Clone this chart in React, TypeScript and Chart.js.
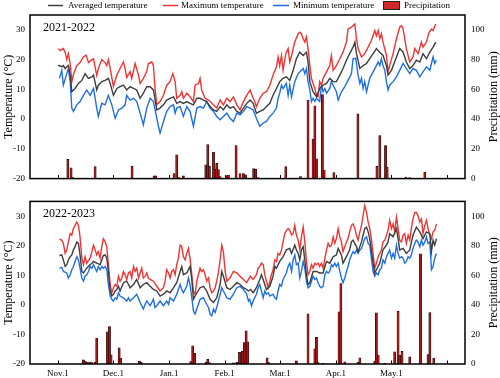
import React, { useEffect, useRef } from "react";
import { Chart, registerables } from "chart.js";

Chart.register(...registerables);

type Pt = [number, number];

// ---- axes / labels ----
const monthTicks = [0, 31, 62, 93, 124, 155, 186, 217];
const monthLabels = ["Nov.1", "Dec.1", "Jan.1", "Feb.1", "Mar.1", "Apr.1", "May.1", ""];
const tempTicks = [-20, -10, 0, 10, 20, 30];
const precipTicks = [0, 20, 40, 60, 80, 100];
const seriesNames = ["Averaged temperature", "Maximum temperature", "Minimum temperature", "Precipitation"];
const panelLabels = ["2021-2022", "2022-2023"];

// ---- 2021-2022 (day since Nov.1, value) ----
const max2122: Pt[] = [[0.2,23.7],[1.3,23],[3.1,23.7],[4.1,22.5],[5,20],[5.9,22],[6.9,18.7],[7.8,12.5],[8.7,15],[10.6,18],[12.4,19],[14.3,21],[15.8,21.5],[17.1,19],[19,20],[19.9,20.3],[21.7,14.7],[22.6,17],[24.5,20],[26.4,19],[27.3,18],[28.2,20],[29.2,17],[31,11],[32.9,14.8],[34.7,17],[36.6,19.2],[37.5,17],[38.4,14],[40.3,16],[41.2,13.7],[43.1,18.7],[45,14.8],[45.9,12],[47.7,13.7],[49.6,16],[50.5,18.7],[52.4,19.2],[53.3,18],[54.2,10.3],[55.2,4.8],[57,5.9],[58.9,8],[60.7,11.4],[62.6,12.6],[64.1,15.3],[65.4,12.6],[66.3,7],[68.2,8],[69.1,9.2],[70,7],[71.9,8.7],[73.7,7.5],[75.6,5.9],[76.5,11.4],[78.4,12],[79.3,13.7],[80.2,9.8],[82.1,7],[84,6.4],[86.8,4.8],[88.6,3.7],[90.5,6.4],[92.3,4.8],[94.2,7],[96,5.9],[97.9,7.5],[99.8,4.8],[101.6,3.1],[103.5,5.9],[105.3,8],[107.2,9.8],[108.9,7],[109.8,5.9],[110.7,4.2],[112.6,7],[114.5,8.7],[116.3,9.2],[118.2,11.4],[120,14.8],[121.9,17.6],[122.8,20.9],[123.7,18],[124.7,21.4],[125.6,16.4],[127.1,22],[128.4,23.7],[129.3,19.2],[130.3,21.4],[132.1,25.9],[134,28.7],[134.9,29.2],[135.8,28.7],[136.8,27],[137.7,25.9],[138.6,27.6],[139.5,23.7],[140.5,18],[141.4,13.7],[142.3,12],[143.3,10.3],[144.2,8],[145.1,7.5],[146,12.6],[147,11.4],[147.9,13.7],[149.8,15.9],[151.6,18],[152.5,21.4],[153.5,16.4],[155.3,18],[157.2,20.3],[159,22.5],[160.9,25.9],[161.8,30.3],[163.7,30.9],[165.6,32],[166.5,27],[167.4,23.7],[169.3,20.9],[171.1,22],[173,24.2],[174.8,26.4],[176.7,29.8],[177.6,28],[178.6,29.8],[179.5,27],[180.4,28.7],[181.3,25.9],[183.2,21.4],[184.1,15.9],[185,18],[186.9,22],[188.8,27],[190.6,30.9],[191.6,31.4],[192.5,30.3],[194.3,23.7],[196.2,19.2],[198,20.9],[199,23.7],[200.9,22],[202.7,25.9],[203.6,24.2],[205.5,25.9],[207,29.2],[208.3,30.3],[209.2,29.8],[210.7,32]];

const avg2122: Pt[] = [[0.2,18.1],[2.2,17.6],[3.1,18],[4.1,17],[5,17.6],[5.9,18],[6.9,14.8],[7.8,9.2],[9.6,10.3],[11.5,12],[13.4,13],[15.2,15.3],[17.1,13.7],[19,14.2],[19.9,14.8],[21.7,9.8],[22.6,11.4],[24.5,12.6],[26.4,13],[28.2,13.7],[29.2,12],[31,8],[32.9,10.3],[34.7,10.9],[36.6,11.4],[38.4,9.8],[40.3,10.9],[42.2,10.3],[44,9.8],[45.9,7],[47.7,8.7],[49.6,10.9],[51.5,10.9],[53.3,9.8],[55.2,3.1],[57,3.7],[58.9,4.8],[60.7,6.4],[62.6,7],[64.5,7.5],[66.3,5.3],[68.2,5.9],[70,5.3],[71.9,5.9],[73.7,5.3],[75.6,4.8],[77.5,7],[79.3,7],[81.2,6.4],[83,5.9],[84.9,4.2],[86.8,3.1],[88.6,2.6],[90.5,4.2],[92.3,3.1],[94.2,4.8],[96,3.7],[97.9,4.2],[99.8,2.6],[101.6,2],[103.5,3.7],[105.3,5.3],[107.2,6.4],[108.9,5.3],[110.7,2],[112.6,2.6],[114.5,3.1],[116.3,4.2],[118.2,5.3],[120,8],[121.9,10.3],[123.7,12.6],[125.6,13.7],[127.4,14.2],[129.3,13],[131.2,16.4],[133,20.3],[134.9,22.5],[136.8,21.4],[138.6,22.5],[139.5,19.2],[140.5,12.6],[142.3,9.2],[144.2,7.5],[146,10.3],[147.9,11.4],[149.8,12],[151.6,13.7],[153.5,12.6],[155.3,12.6],[157.2,14.8],[159,17],[160.9,19.8],[162.7,22],[164.6,24.2],[165.6,25.9],[166.5,22],[168.4,17],[170.2,18],[172.1,18.7],[173.9,20.3],[175.8,22],[177.6,23.7],[179.5,22.5],[181.3,21.4],[183.2,18],[184.1,14.8],[186,16.4],[188.8,20.9],[190.6,23.7],[192.5,22.5],[194.3,19.2],[196.2,17],[198,18],[199.9,19.8],[201.8,19.2],[203.6,22],[205.5,20.3],[207.4,22.5],[209.2,24.2],[210.7,25.9]];

const min2122: Pt[] = [[0.9,13.7],[2.2,16.4],[3.1,11.4],[5,15.3],[5.9,17],[6.9,12.6],[7.8,3.7],[8.7,2.6],[10.6,4.8],[12.4,5.9],[14.3,8],[16.1,9.8],[18,8],[19.9,10.3],[21.7,3.7],[22.6,0.9],[24.5,5.3],[26.4,4.8],[28.2,8],[30.1,4.8],[32,0.3],[33.8,3.1],[35.7,3.7],[37.5,4.8],[38.4,8],[40.3,6.4],[42.2,7],[44,5.9],[45.9,2],[47.7,-1.9],[49.6,3.7],[51.5,7],[53.3,5.9],[55.2,0.3],[56.1,-2.4],[57,-4.7],[58.9,-0.8],[60.7,2.6],[62.6,4.2],[64.5,4.8],[65.4,2],[66.3,3.7],[68.2,4.2],[70,0.9],[71.9,4.2],[73.7,2.6],[75.6,-2.4],[77.5,3.7],[79.3,4.2],[81.2,3.7],[83,5.9],[84.9,3.7],[86.8,2.6],[88.6,0.9],[90.5,-0.2],[92.3,0.9],[94.2,2],[96,0.3],[97.9,-0.8],[99.8,2],[101.6,1.4],[103.5,2.6],[105.3,4.2],[107.2,3.7],[108.9,3.1],[110.7,0.3],[112.6,-2.4],[114.5,-1.3],[116.3,-0.8],[118.2,0.9],[120,2],[121.9,3.7],[122.8,7],[123.7,8.7],[124.7,11.4],[125.6,10.3],[127.4,12],[128.4,8],[129.3,11.4],[130.3,7.5],[132.1,12.6],[134,15.3],[135.8,16.4],[136.8,17],[137.7,15.3],[138.6,17],[139.5,12.6],[140.5,9.8],[141.4,5.9],[142.3,7],[143.3,5.9],[144.2,7],[146,5.9],[147,11.4],[147.9,9.2],[148.9,10.3],[149.8,8.7],[151.6,10.3],[152.5,12.6],[153.5,11.4],[155.3,9.2],[156.3,6.4],[158.1,9.2],[160,10.9],[161.8,13],[163.7,15.3],[164.6,20.3],[166.1,20.5],[167.4,14.8],[168.4,12],[169.3,13.7],[170.2,10.3],[171.1,12.6],[172.1,9.2],[173.9,13.7],[175.8,15.9],[177.6,18],[178.6,19.2],[179.5,18],[180.4,20.3],[181.3,18],[182.3,16.4],[183.2,12.6],[184.1,9.8],[185,11.4],[186.9,12.6],[188.8,14.2],[190.6,16.4],[192.5,18.7],[194.3,17],[196.2,15.3],[198,17],[199.9,16.4],[201.8,14.2],[203.6,15.9],[205.5,17.6],[207.4,16.4],[208.3,18.7],[209.2,20.9],[210.1,18.7],[211,19.8]];

const prec2122: Pt[] = [[5.6,12.9],[7.4,7.3],[8.3,0.7],[20.8,8],[41.4,8.4],[53.7,1.8],[54.6,1.8],[64.8,3.3],[66.3,16],[67.6,0.7],[70,1.8],[82.5,9.3],[83.6,22.8],[84.5,8.4],[86.8,17.7],[87.7,6.2],[88.6,10.2],[89.5,6],[90.5,1.4],[94.2,2],[95.1,2.2],[99.4,22.2],[101.6,3.3],[103.5,3.3],[104.8,2.6],[109.2,6.7],[110.3,6.2],[111.6,0.7],[127.1,8],[135.3,1.3],[139.5,52.8],[142.3,26.6],[143.3,49],[144.2,13.3],[147.5,56.5],[148.5,5.8],[153.9,4],[167.3,43.5],[177.9,8.2],[179.5,29],[182.7,22.2],[183.6,7.8],[194,1.1],[196.2,0.7],[204.6,4.2]];

// ---- 2022-2023 ----
const max2223: Pt[] = [[0.9,22.2],[2.2,21.9],[3.1,20.8],[4.1,17.4],[5,18.6],[5.9,21.3],[6.9,24.1],[7.8,23.6],[8.7,25.8],[9.6,26.9],[10.6,28],[11.5,26.9],[12.4,23],[13.4,15.8],[14.3,13.6],[15.2,16.3],[16.1,14.1],[18,15.8],[19,18],[19.9,20.2],[20.8,18.6],[21.7,16.9],[22.6,18],[23.6,15.8],[24.5,19.7],[25.4,22.4],[26.4,21.3],[27.3,19.7],[28.2,13.6],[29.2,6.9],[30.1,4.1],[31,5.8],[32,6.9],[32.9,6.3],[33.8,9.7],[34.7,8],[35.7,9.1],[36.6,11.3],[37.5,10.2],[38.4,8.6],[39.4,10.8],[40.3,11.3],[41.2,9.1],[42.2,13],[43.1,11.3],[44,12.4],[45,9.1],[45.9,10.8],[46.8,12.4],[47.7,9.1],[48.7,9.7],[49.6,10.8],[50.5,9.1],[51.5,8.6],[53.3,8],[55.2,6.3],[57,4.7],[58.9,5.8],[59.8,8],[60.7,11.9],[61.7,10.8],[62.6,9.1],[63.5,11.3],[64.5,11.9],[65.4,10.2],[66.3,13.6],[67.2,15.8],[68.2,20.2],[69.1,19.7],[70,16.3],[71,15.2],[71.9,17.4],[72.8,19.1],[73.7,15.8],[74.7,10.2],[75.6,4.7],[76.5,3.6],[77.5,8],[79.3,12.4],[80.2,11.3],[81.2,11.9],[82.1,10.2],[83,8],[84,9.1],[84.9,5.8],[85.8,4.1],[86.8,4.7],[87.7,5.8],[88.6,8],[89.5,10.8],[90.5,15.2],[91.4,20.2],[92.3,18],[93.3,11.3],[94.2,8],[96,9.1],[97.9,11.3],[99.8,10.8],[101.6,9.7],[103.5,8.6],[105.3,7.5],[106.3,8.6],[107.3,9.7],[108.9,8.6],[110.7,10.2],[111.7,12.4],[112.6,13],[113.5,14.1],[114.5,13.6],[115.4,10.2],[116.3,8],[117.3,5.8],[118.2,8],[119.1,10.2],[120,11.9],[121,15.2],[121.9,14.7],[122.8,17.4],[123.7,16.9],[124.7,18.6],[125.6,21.3],[126.5,24.1],[127.4,25.2],[128.4,25.8],[129.3,25.2],[130.3,23.6],[131.2,24.1],[132.1,26.9],[133,23.6],[134,21.9],[134.9,18.6],[135.8,23],[136.8,26.3],[137.7,21.3],[138.6,14.7],[139.5,10.2],[140.5,11.3],[141.4,13.6],[142.3,12.4],[143.3,14.1],[144.2,13.6],[145.1,14.1],[146,13],[147,14.1],[147.9,12.4],[148.9,15.8],[149.8,18.6],[150.7,20.8],[151.6,19.7],[152.6,20.2],[153.5,23],[154.4,20.8],[155.3,22.4],[156.3,25.8],[157.2,23],[158.1,21.3],[159,18],[160,19.7],[160.9,21.3],[161.8,22.4],[162.7,24.7],[163.7,26.9],[164.6,27.4],[165.6,25.8],[166.5,23.6],[167.4,21.9],[168.4,24.7],[169.3,26.9],[170.2,30.2],[171.1,33.6],[172.1,31.3],[173,28],[173.9,25.8],[174.8,22.4],[175.8,16.9],[176.7,12.4],[177.6,14.1],[178.6,16.3],[179.5,17.4],[180.4,18.6],[181.3,21.3],[182.3,21.9],[183.2,23.6],[184.1,25.2],[185,28.6],[186,25.8],[186.9,27.4],[187.8,24.7],[188.8,29.7],[189.7,25.8],[190.6,21.9],[191.6,21.3],[192.5,23.6],[193.4,24.1],[194.3,20.8],[195.3,23.6],[196.2,21.9],[197.1,25.8],[198,29.1],[199,31.3],[199.9,31.3],[200.8,30.2],[201.8,28],[202.7,29.1],[203.6,24.1],[204.6,26.9],[205.5,28.6],[206.4,25.8],[207.4,23.6],[208.3,22.4],[209.2,24.7],[210.1,25.2],[211.1,27.4]];

const avg2223: Pt[] = [[0.9,16.7],[2.2,16.9],[3.1,15.2],[4.1,13],[5,13.6],[5.9,15.2],[6.9,16.3],[7.8,16.9],[8.7,18.6],[9.6,19.7],[10.6,21.3],[11.5,20.8],[12.4,16.9],[13.4,11.3],[14.3,10.8],[16.1,12.4],[18,13.6],[19,14.1],[19.9,14.7],[21.7,14.1],[23.6,13.6],[24.5,15.2],[25.4,16.7],[26.4,16.9],[27.3,15.8],[28.2,11.3],[29.2,4.7],[30.1,3],[31,3.6],[32,4.7],[32.9,5.2],[33.8,6.3],[34.7,4.7],[36.6,7.5],[38.4,8],[39.4,6.9],[40.3,5.8],[42.2,6.9],[44,8.6],[45.9,5.8],[47.7,6.9],[49.6,7.5],[51.5,6.3],[53.3,5.2],[55.2,4.7],[57,3],[58.9,3.6],[60.7,4.7],[62.6,4.1],[64.5,5.8],[66.3,7.5],[68.2,11.3],[69.1,13],[70,10.2],[71.9,10.8],[73.7,13],[74.7,8.6],[75.6,1.9],[77.5,4.1],[79.3,5.8],[81.2,6.3],[83,4.7],[84.9,1.9],[86.8,0.8],[88.6,2.4],[90.5,6.9],[91.4,11.3],[92.3,9.7],[94.2,5.8],[96,5.2],[97.9,6.3],[99.8,7.5],[101.6,6.9],[103.5,5.8],[105.3,5.2],[106.3,4.7],[107.5,5.2],[108.9,4.1],[110.7,5.8],[112.6,8.6],[113.5,10.2],[114.5,8.6],[116.3,5.2],[118.2,6.3],[120,9.7],[121,13],[121.9,12.4],[123.7,14.7],[125.6,16.3],[127.4,18.6],[129.3,19.1],[130.3,17.4],[132.1,20.2],[133,18.6],[134,17.4],[134.9,15.2],[135.8,18.6],[136.8,19.7],[137.7,15.2],[138.6,10.2],[139.5,6.9],[140.5,7.5],[142.3,11.3],[144.2,11.3],[146,10.8],[147.9,10.8],[148.9,13],[149.8,14.7],[151.6,14.1],[153.5,16.3],[155.3,16.9],[156.3,19.1],[158.1,16.9],[159,14.1],[160.9,16.3],[162.7,18.6],[163.7,21.3],[164.6,21.9],[166.5,19.7],[167.4,18],[169.3,21.3],[171.1,25.8],[172.1,26.3],[173,24.7],[173.9,22.4],[175.8,14.1],[176.7,10.8],[177.6,11.9],[179.5,14.1],[181.3,18.6],[183.2,20.2],[184.1,21.3],[185,24.1],[186.9,23],[188.8,25.8],[189.7,22.4],[190.6,18.6],[192.5,19.1],[194.3,17.4],[196.2,18.6],[198,23.6],[199.9,26.3],[201.8,24.7],[203.6,22.4],[205.5,24.7],[207.4,24.1],[208.3,18],[209.2,21.9],[210.1,20.2],[211.1,22.4]];

const min2223: Pt[] = [[0.9,12.4],[2.2,12.7],[3.1,11.3],[5,10.8],[5.9,9.1],[6.9,10.2],[7.8,11.9],[8.7,13],[9.6,14.7],[10.6,16.3],[11.5,15.2],[12.4,12.4],[13.4,9.1],[14.3,8],[15.2,9.7],[16.1,10.2],[17.1,11.3],[18,13],[19,12.4],[19.9,13.6],[20.8,12.4],[21.7,11.3],[22.6,13],[23.6,11.9],[24.5,13],[25.4,12.4],[26.4,13],[27.3,11.9],[28.2,6.9],[29.2,3],[30.1,1.9],[31,1.3],[32,2.4],[32.9,1.9],[33.8,4.1],[34.7,3],[36.6,2.4],[38.4,1.3],[39.4,2.4],[40.3,1.3],[42.2,2.4],[44,3.6],[45.9,0.8],[47.7,-1.4],[48.7,0.2],[49.6,1.3],[51.5,-0.3],[53.3,1.9],[54.2,-0.9],[55.2,-0.3],[57,1.3],[58.9,-0.3],[60.7,1.3],[61.7,0.2],[62.6,2.4],[64.5,1.3],[66.3,3.6],[67.2,5.2],[68.2,6.9],[69.1,5.2],[70,4.1],[71.9,6.3],[72.8,9.1],[73.7,6.9],[74.7,2.4],[75.6,-2],[76.5,-3.1],[77.5,-1.4],[78.4,0.2],[79.3,1.9],[81.2,2.4],[82.1,1.3],[83,0.2],[84,-0.9],[84.9,-3.1],[85.8,-3.7],[86.8,-1.4],[87.7,-2.6],[88.6,-0.9],[90.5,3.6],[91.4,5.8],[92.3,4.7],[93.3,3.6],[94.2,2.4],[96,1.9],[97.9,3.6],[99.8,5.8],[101.6,6.3],[103.5,5.2],[105.3,3.6],[106.3,1.3],[107,1.9],[108,-0.3],[108.9,1.3],[110.7,3.6],[111.7,5.8],[112.6,6.9],[113.5,4.7],[114.5,2.4],[115.4,4.7],[116.3,3.6],[117.3,4.1],[118.2,3],[120,3.6],[121,2.4],[121.9,1.9],[122.8,4.7],[123.7,6.9],[124.7,6.3],[125.6,8.6],[126.5,9.7],[127.4,10.8],[128.4,13],[129.3,14.1],[130.3,11.3],[131.2,15.2],[132.1,16.9],[133,13.6],[134,14.1],[134.9,9.1],[135.8,11.3],[136.8,14.7],[137.7,12.4],[138.6,8],[139.5,5.8],[140.5,6.3],[141.4,8],[142.3,9.7],[143.3,8.6],[144.2,9.1],[145.1,7.5],[146,6.3],[147,5.8],[147.9,6.3],[148.9,10.2],[149.8,11.3],[150.7,10.8],[151.6,11.3],[152.6,13.6],[153.5,13],[154.4,14.1],[155.3,13],[156.3,14.1],[157.2,11.3],[158.1,9.1],[159,7.5],[160,9.1],[160.9,11.3],[161.8,13],[162.7,15.2],[163.7,16.9],[164.6,18],[165.6,17.4],[166.5,18.6],[167.4,17.4],[168.4,18.6],[169.3,19.1],[170.2,20.8],[171.1,22.4],[172.1,23],[173,20.8],[173.9,20.2],[174.8,15.8],[175.8,11.3],[176.7,9.7],[177.6,10.8],[178.6,10.2],[179.5,11.9],[180.4,12.4],[181.3,15.2],[182.3,14.1],[183.2,16.3],[184.1,17.4],[185,18.6],[186,15.8],[186.9,17.4],[187.8,15.8],[188.8,20.2],[189.7,17.4],[190.6,15.8],[191.6,16.3],[192.5,15.8],[193.4,14.1],[194.3,14.7],[195.3,16.3],[196.2,15.8],[197.1,16.9],[198,19.1],[199,20.8],[199.9,21.9],[200.8,21.3],[201.8,19.7],[202.7,21.9],[203.6,20.2],[204.6,21.3],[205.5,23],[206.4,20.8],[207.4,21.3],[208.3,11.9],[209.2,13],[210.1,15.8],[211.1,17.4]];

const prec2223: Pt[] = [[14.3,2.9],[15.2,1.8],[16.5,1.3],[18,1.3],[19,0.9],[20.8,1.3],[21.7,17.6],[27.7,21.8],[28.8,25.3],[29.7,6.2],[34.2,10.9],[35.1,4],[45.5,1.9],[46.4,1.1],[74.1,1.7],[75.2,12.3],[76.3,7.2],[82.7,1.3],[83.6,3.1],[84.5,0.9],[97.9,0.8],[99.8,1.2],[101.3,7.9],[102.9,8.7],[104,14.5],[105,22.4],[105.9,15],[116.7,4.2],[117.6,0.9],[133,2.1],[139.5,34],[143.3,10.2],[144.2,18],[145.1,0.9],[147.9,0.5],[156.8,35.3],[157.8,54.4],[160,1.4],[167.4,1.3],[168.4,4.2],[176.7,2],[177.6,34.7],[178.6,6.1],[182.3,0.7],[187.8,8.3],[189.7,35.8],[190.6,5.9],[191.9,8.5],[196.2,4.8],[202.2,74.6],[206.4,6.4],[207.4,34.8],[209.6,4]];

// ---- styling ----
const FONT = "'Liberation Serif', 'Times New Roman', 'DejaVu Serif', serif";
const COL_AVG = "#3d3d3d";
const COL_MAX = "#f03434";
const COL_MIN = "#1f6fe3";
const COL_BAR = "#a11b1b";
const COL_BAR_EDGE = "#1a0000";
const COL_SWATCH = "#d02626";

const toXY = (a: Pt[]) => a.map(([x, y]) => ({ x, y }));

function makeDecorPlugin(label: string, showLegend: boolean) {
  return {
    id: "decor",
    afterDatasetsDraw(chart: any) {
      const { ctx, chartArea: ca, scales } = chart;
      ctx.save();
      // frame
      ctx.strokeStyle = "#000";
      ctx.lineWidth = 1.5;
      ctx.strokeRect(ca.left, ca.top, ca.right - ca.left, ca.bottom - ca.top);
      // inward ticks on x
      ctx.lineWidth = 1;
      ctx.beginPath();
      for (const v of monthTicks) {
        const px = Math.round(scales.x.getPixelForValue(v)) + 0.5;
        ctx.moveTo(px, ca.bottom);
        ctx.lineTo(px, ca.bottom - 3.5);
      }
      ctx.stroke();
      // panel label
      ctx.fillStyle = "#000";
      ctx.font = `12px ${FONT}`;
      ctx.textAlign = "left";
      ctx.textBaseline = "middle";
      ctx.fillText(label, 43, ca.top + 12.5);
      // axis titles
      const cy = (ca.top + ca.bottom) / 2;
      ctx.textAlign = "center";
      ctx.save();
      ctx.translate(9, cy);
      ctx.rotate(-Math.PI / 2);
      ctx.fillText("Temperature (\u00B0C)", 0, 0);
      ctx.restore();
      ctx.save();
      ctx.translate(494, cy);
      ctx.rotate(-Math.PI / 2);
      ctx.fillText("Precipitation (mm)", 0, 0);
      ctx.restore();
      // legend
      if (showLegend) {
        const ly = 5.5;
        ctx.font = `9px ${FONT}`;
        ctx.textAlign = "left";
        ctx.textBaseline = "middle";
        const lines: [number, number, string, number, string][] = [
          [48, 63, COL_AVG, 68, seriesNames[0]],
          [163, 178, COL_MAX, 181, seriesNames[1]],
          [273, 289, COL_MIN, 293, seriesNames[2]],
        ];
        ctx.lineWidth = 1.5;
        for (const [x1, x2, c, tx, t] of lines) {
          ctx.strokeStyle = c;
          ctx.beginPath();
          ctx.moveTo(x1, ly);
          ctx.lineTo(x2, ly);
          ctx.stroke();
          ctx.fillStyle = "#000";
          ctx.fillText(t, tx, ly);
        }
        ctx.fillStyle = COL_SWATCH;
        ctx.fillRect(383.5, 1.5, 16, 8);
        ctx.strokeStyle = "#222";
        ctx.lineWidth = 1;
        ctx.strokeRect(383.5, 1.5, 16, 8);
        ctx.fillStyle = "#000";
        ctx.fillText(seriesNames[3], 404, ly);
      }
      ctx.restore();
    },
  };
}

interface PanelProps {
  label: string;
  avg: Pt[];
  max: Pt[];
  min: Pt[];
  prec: Pt[];
  showLegend: boolean;
  showXLabels: boolean;
  top: number;
  height: number;
  padTop: number;
  xAxisH: number;
}

function Panel(p: PanelProps) {
  const ref = useRef<HTMLCanvasElement>(null);
  useEffect(() => {
    const tickFont = { family: FONT, size: 9 };
    const lineDs = (name: string, data: Pt[], color: string, order: number) => ({
      type: "line" as const,
      label: name,
      data: toXY(data),
      borderColor: color,
      backgroundColor: color,
      borderWidth: 1.4,
      pointRadius: 0,
      tension: 0,
      yAxisID: "y",
      order,
    });
    const chart = new Chart(ref.current as HTMLCanvasElement, {
      type: "bar",
      data: {
        datasets: [
          lineDs(seriesNames[1], p.max, COL_MAX, 3),
          lineDs(seriesNames[2], p.min, COL_MIN, 2),
          lineDs(seriesNames[0], p.avg, COL_AVG, 1),
          {
            type: "bar" as const,
            label: seriesNames[3],
            data: toXY(p.prec),
            backgroundColor: COL_BAR,
            borderColor: COL_BAR_EDGE,
            borderWidth: 0.6,
            barThickness: 2.2,
            yAxisID: "y1",
            order: 0,
          },
        ] as any,
      },
      options: {
        responsive: false,
        animation: false,
        events: [],
        layout: { padding: { top: p.padTop, left: 0, right: 0, bottom: 0 }, autoPadding: false } as any,
        plugins: { legend: { display: false }, tooltip: { enabled: false } },
        scales: {
          x: {
            type: "linear",
            min: -15.5,
            max: 227,
            offset: false,
            grid: { display: false, drawTicks: false },
            border: { display: false },
            afterBuildTicks: (s: any) => {
              s.ticks = monthTicks.map((v) => ({ value: v }));
            },
            afterFit: (s: any) => {
              s.height = p.xAxisH;
            },
            ticks: {
              display: p.showXLabels,
              autoSkip: false,
              maxRotation: 0,
              padding: 4,
              color: "#000",
              font: tickFont,
              callback: (_v: any, i: number) => monthLabels[i] ?? "",
            },
          },
          y: {
            type: "linear",
            position: "left",
            min: -20,
            max: 35,
            grid: { display: false, drawTicks: false },
            border: { display: false },
            afterBuildTicks: (s: any) => {
              s.ticks = tempTicks.map((v) => ({ value: v }));
            },
            afterFit: (s: any) => {
              s.width = 30;
            },
            ticks: { padding: 5, color: "#000", font: tickFont },
          },
          y1: {
            type: "linear",
            position: "right",
            min: 0,
            max: 110,
            grid: { display: false, drawTicks: false },
            border: { display: false },
            afterBuildTicks: (s: any) => {
              s.ticks = precipTicks.map((v) => ({ value: v }));
            },
            afterFit: (s: any) => {
              s.width = 35;
            },
            ticks: { padding: 6, color: "#000", font: tickFont },
          },
        },
      } as any,
      plugins: [makeDecorPlugin(p.label, p.showLegend)],
    });
    return () => chart.destroy();
  }, []);
  return (
    <canvas
      ref={ref}
      width={500}
      height={p.height}
      style={{ position: "absolute", left: 0, top: p.top, width: 500, height: p.height, display: "block" }}
    />
  );
}

export default function App() {
  return (
    <div style={{ position: "absolute", left: 0, top: 0, width: 500, height: 378, background: "#fff", overflow: "hidden" }}>
      <Panel label={panelLabels[0]} avg={avg2122} max={max2122} min={min2122} prec={prec2122}
        showLegend={true} showXLabels={false} top={0} height={190} padTop={15} xAxisH={9} />
      <Panel label={panelLabels[1]} avg={avg2223} max={max2223} min={min2223} prec={prec2223}
        showLegend={false} showXLabels={true} top={190} height={188} padTop={8} xAxisH={14} />
    </div>
  );
}
